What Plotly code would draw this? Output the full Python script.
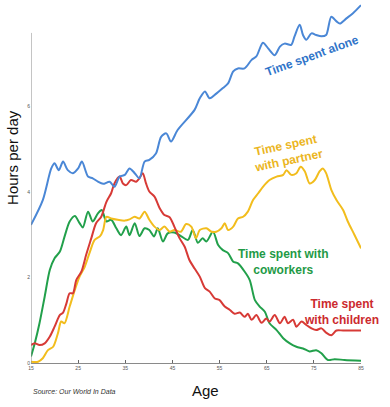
import plotly.graph_objects as go

# ---------------- data ----------------
alone_age = [15.0, 17.5, 19.3, 20.0, 20.9, 21.8, 22.8, 23.9, 25.0, 25.8, 27.1, 28.1, 29.2, 30.3, 31.7, 32.7,
             33.8, 34.9, 35.9, 37.0, 38.0, 39.1, 40.1, 41.5, 42.6, 43.7, 44.7, 46.1, 49.7, 50.8, 51.9, 52.9,
             54.3, 55.7, 56.8, 57.9, 58.9, 60.3, 61.8, 62.8, 64.2, 65.3, 66.7, 67.8, 68.8, 70.2, 70.9, 72.0,
             72.7, 73.4, 74.5, 75.5, 76.6, 77.6, 78.7, 79.8, 80.5, 81.9, 83.3, 85.0]
alone_hours = [3.23, 3.81, 4.55, 4.67, 4.51, 4.71, 4.51, 4.44, 4.55, 4.71, 4.36, 4.32, 4.24, 4.19, 4.24, 4.12,
               4.36, 4.40, 4.55, 4.44, 4.32, 4.71, 4.75, 4.90, 5.29, 5.37, 5.18, 5.45, 5.92, 6.19, 6.35, 6.19,
               6.30, 6.43, 6.54, 6.82, 6.89, 6.89, 7.09, 7.17, 7.49, 7.36, 7.20, 7.40, 7.47, 7.44, 7.64, 7.91,
               7.67, 7.56, 7.71, 7.67, 7.64, 7.67, 8.10, 7.99, 7.94, 8.06, 8.18, 8.37]

partner_age = [15.0, 16.5, 17.5, 18.6, 19.7, 20.7, 21.4, 22.1, 23.2, 24.3, 25.3, 26.4, 27.4, 28.5, 29.6, 30.3,
               31.0, 32.0, 33.4, 34.9, 35.9, 37.0, 38.0, 39.1, 40.1, 41.2, 42.3, 43.3, 44.4, 45.4, 46.8, 47.9,
               49.0, 50.0, 50.8, 52.2, 53.3, 54.3, 55.4, 56.1, 56.8, 57.9, 58.9, 60.0, 61.0, 62.1, 63.2, 64.2,
               65.6, 67.1, 68.5, 69.2, 70.2, 71.3, 72.2, 73.1, 74.1, 75.2, 76.2, 76.9, 77.6, 78.7, 79.8, 81.2,
               82.2, 83.6, 85.0]
partner_hours = [0.03, 0.03, 0.11, 0.30, 0.38, 0.69, 0.97, 0.93, 1.32, 1.71, 2.02, 2.25, 2.57, 2.88, 2.96, 3.11,
                 3.42, 3.38, 3.35, 3.33, 3.36, 3.42, 3.38, 3.54, 3.35, 3.19, 3.11, 3.19, 3.07, 3.11, 3.07, 3.25,
                 3.19, 2.92, 3.11, 3.15, 3.07, 3.07, 3.15, 3.27, 3.11, 3.19, 3.38, 3.42, 3.54, 3.81, 3.97, 4.12,
                 4.28, 4.36, 4.40, 4.51, 4.40, 4.44, 4.59, 4.48, 4.20, 4.28, 4.48, 4.55, 4.44, 4.05, 3.81, 3.58,
                 3.31, 3.00, 2.68]

cowork_age = [15.0, 15.8, 16.8, 17.9, 19.0, 20.0, 21.1, 22.1, 23.2, 24.3, 25.3, 26.0, 27.1, 28.1, 29.2, 30.0,
              31.0, 32.0, 33.1, 34.1, 35.2, 35.9, 37.0, 38.0, 39.1, 40.1, 41.1, 41.9, 43.0, 44.0, 45.4, 46.8,
              48.3, 49.3, 50.4, 51.4, 52.2, 53.6, 54.7, 55.7, 56.8, 57.9, 58.9, 60.3, 61.4, 62.5, 63.5, 64.6,
              65.6, 67.1, 68.5, 69.9, 71.3, 72.7, 74.1, 75.5, 76.6, 78.0, 79.4, 81.5, 85.0]
cowork_hours = [0.15, 0.46, 0.93, 1.55, 2.18, 2.45, 2.60, 2.95, 3.31, 3.44, 3.27, 3.17, 3.54, 3.31, 3.50, 3.58,
                3.31, 3.35, 3.15, 2.99, 3.19, 2.99, 3.27, 2.97, 3.15, 3.11, 2.96, 3.15, 2.84, 3.03, 3.05, 2.97,
                2.88, 3.11, 2.81, 2.92, 2.84, 3.07, 2.76, 2.64, 2.57, 2.37, 2.33, 2.14, 1.94, 1.47, 1.32, 1.20,
                0.93, 0.77, 0.58, 0.46, 0.38, 0.34, 0.27, 0.30, 0.23, 0.07, 0.09, 0.07, 0.05]

child_age = [15.0, 15.8, 16.8, 17.9, 19.0, 20.0, 21.1, 21.8, 22.5, 23.2, 23.9, 24.6, 25.7, 26.7, 27.8, 28.8,
             29.9, 31.0, 32.0, 32.7, 33.8, 34.5, 35.2, 36.2, 37.3, 38.0, 38.7, 39.4, 40.1, 41.2, 42.3, 43.3,
             44.4, 45.4, 46.5, 47.6, 48.6, 49.7, 50.8, 51.9, 52.9, 54.0, 55.0, 56.1, 57.2, 58.2, 59.3, 60.3,
             61.0, 61.8, 62.8, 63.9, 64.9, 65.6, 66.7, 67.8, 68.8, 69.5, 70.6, 71.3, 72.4, 73.4, 74.5, 75.5,
             76.6, 77.6, 78.7, 79.8, 81.2, 85.0]
child_hours = [0.42, 0.46, 0.42, 0.46, 0.62, 0.85, 1.12, 1.18, 1.39, 1.63, 1.63, 1.94, 2.14, 2.53, 2.92, 3.27,
               3.42, 3.77, 3.97, 4.20, 4.36, 4.20, 4.16, 4.28, 4.24, 4.32, 4.44, 4.20, 4.01, 3.89, 3.62, 3.46,
               3.41, 3.19, 2.92, 2.72, 2.41, 2.21, 2.02, 1.75, 1.67, 1.51, 1.47, 1.32, 1.24, 1.15, 1.18, 1.08,
               1.15, 1.01, 1.12, 0.94, 1.04, 0.97, 1.12, 0.93, 1.08, 0.93, 1.01, 0.85, 0.97, 0.89, 0.81, 0.77,
               0.81, 0.71, 0.65, 0.76, 0.76, 0.76]

x_ticks = [15, 25, 35, 45, 55, 65, 75, 85]
x_tick_labels = ["15", "25", "35", "45", "55", "65", "75", "85"]
y_ticks = [0, 2, 4, 6]
y_tick_labels = ["0", "2", "4", "6"]

# ---------------- styles ----------------
BLUE, YELLOW, GREEN, RED = "#4a87d6", "#f2bd1d", "#22a04b", "#d73a36"
BLUE_T, YELLOW_T, GREEN_T, RED_T = "#2f74c9", "#ebb521", "#1f9a46", "#cc2a2e"
FONT = "Liberation Sans, Arial, sans-serif"

fig = go.Figure()
for ages, hours, col in [(cowork_age, cowork_hours, GREEN),
                         (partner_age, partner_hours, YELLOW),
                         (child_age, child_hours, RED),
                         (alone_age, alone_hours, BLUE)]:
    fig.add_trace(go.Scatter(x=ages, y=hours, mode="lines",
                             line=dict(color=col, width=2, shape="spline", smoothing=0.8),
                             hoverinfo="skip", showlegend=False))

labels = [
    ("Time spent alone", 74.5, 7.18, -20, BLUE_T),
    ("Time spent<br>with partner", 69.4, 4.91, -12, YELLOW_T),
    ("Time spent with<br>coworkers", 68.4, 2.36, 0, GREEN_T),
    ("Time spent<br>with children", 80.9, 1.19, 0, RED_T),
]
for txt, ax, ay, ang, col in labels:
    fig.add_annotation(x=ax, y=ay, xref="x", yref="y", text="<b>" + txt + "</b>",
                       showarrow=False, textangle=ang, align="center",
                       font=dict(family=FONT, size=12, color=col))

# axis titles and source note (paper coordinates; plot area spans 330 x 360 px)
fig.add_annotation(x=0.53, y=-0.075, xref="paper", yref="paper", text="Age", showarrow=False,
                   xanchor="center", yanchor="middle", font=dict(family=FONT, size=15, color="#111"))
fig.add_annotation(x=-0.058, y=0.572, xref="paper", yref="paper", text="Hours per day", showarrow=False,
                   textangle=-90, xanchor="center", yanchor="middle",
                   font=dict(family=FONT, size=15, color="#111"))
fig.add_annotation(x=0.0, y=-0.078, xref="paper", yref="paper", text="<i>Source: Our World In Data</i>",
                   showarrow=False, xanchor="left", yanchor="middle",
                   font=dict(family=FONT, size=7, color="#333"))

# vertical axis line (stops below the top of the plotting area)
fig.add_shape(type="line", xref="x", yref="y", x0=15, x1=15, y0=0, y1=7.72,
              line=dict(color="#8a8a8a", width=1))

fig.update_layout(
    width=390, height=407,
    margin=dict(l=31, r=29, t=3, b=44),
    paper_bgcolor="white", plot_bgcolor="white",
    font=dict(family=FONT),
    xaxis=dict(range=[15, 85], tickvals=x_ticks, ticktext=x_tick_labels, showgrid=False, zeroline=False,
               showline=True, linecolor="#8a8a8a", linewidth=1, ticks="inside", ticklen=3,
               tickcolor="#666", tickfont=dict(size=5, color="#555")),
    yaxis=dict(range=[0, 8.42], tickvals=y_ticks, ticktext=y_tick_labels, showgrid=False, zeroline=False,
               showline=False, ticks="", tickfont=dict(size=5, color="#555")),
)

fig.write_html("out.html", config={"displayModeBar": False},
               post_script="document.body.style.margin='0';document.body.style.padding='0';")
